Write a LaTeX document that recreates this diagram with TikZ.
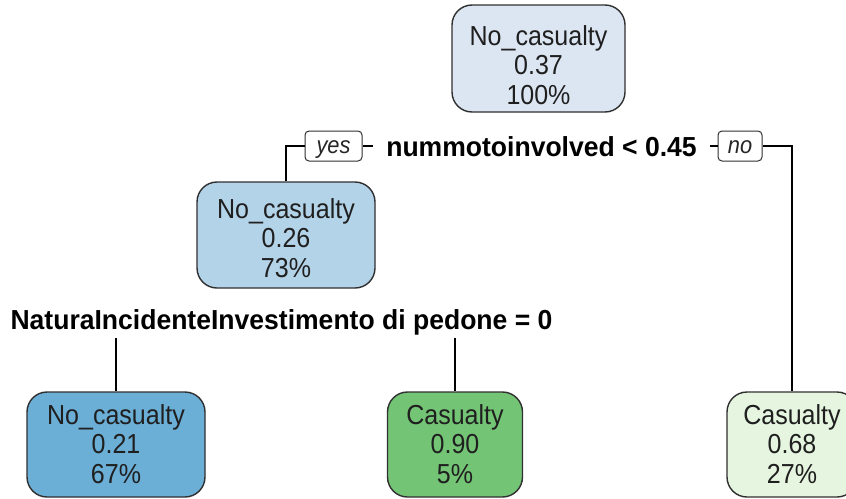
\documentclass[tikz,border=0pt]{standalone}
\usepackage{fontspec}
\setmainfont{Liberation Sans}
\newfontfamily\rfont[FakeStretch=0.91]{Liberation Sans}
\newfontfamily\bfontx[FakeStretch=0.965]{Liberation Sans}
\definecolor{cRoot}{HTML}{DCE6F2}
\definecolor{cTwo}{HTML}{B3D3E8}
\definecolor{cThree}{HTML}{6BAED6}
\definecolor{cFour}{HTML}{74C476}
\definecolor{cFive}{HTML}{E5F5E0}
\definecolor{edgec}{HTML}{303030}
\tikzset{
  treebox/.style={draw=edgec, line width=1.4pt, rounded corners=20pt, inner sep=0pt, minimum height=106pt},
  lbl/.style={anchor=base, inner sep=0pt, font=\rfont\fontsize{27.5}{30}\selectfont, text=black!88},
  splitlbl/.style={anchor=base, inner xsep=13pt, inner ysep=3pt, font=\bfontx\bfseries\fontsize{27.5}{30}\selectfont, text=black},
  tagbox/.style={draw=edgec, line width=1pt, rounded corners=4pt, inner sep=0pt, minimum height=30pt,
    text height=14pt, text depth=0pt, font=\rfont\itshape\fontsize{24}{26}\selectfont, text=black!85},
  conn/.style={draw=black, line width=1.1pt}
}
\newcommand\threelines[6]{%
  \node[lbl] (#1a) at (#2,#3) {#4};
  \node[lbl] (#1b) at (#2,#3+29.5) {#5};
  \node[lbl] (#1c) at (#2,#3+59) {#6};}
\begin{document}
\begin{tikzpicture}[x=1pt,y=-1pt]
\useasboundingbox (0,0) rectangle (846,498);
\clip (0,0) rectangle (846,498);
\fill[white] (0,0) rectangle (846,498);

% boxes
\node[treebox, fill=cRoot, minimum width=173pt, minimum height=107pt] (root) at (538.5,58.5) {};
\node[treebox, fill=cTwo, minimum width=178pt] (two) at (286,235) {};
\node[treebox, fill=cThree, minimum width=178pt, minimum height=105pt] (three) at (116,444.5) {};
\node[treebox, fill=cFour, minimum width=135pt, minimum height=105pt] (four) at (455,444.5) {};
\node[treebox, fill=cFive, minimum width=130pt, minimum height=105pt] (five) at (792,444.5) {};

% box texts
\threelines{rt}{538.5}{45}{No\_casualty}{0.37}{100\%}
\threelines{tw}{286}{218}{No\_casualty}{0.26}{73\%}
\threelines{th}{116}{424}{No\_casualty}{0.21}{67\%}
\threelines{fo}{455}{424}{Casualty}{0.90}{5\%}
\threelines{fi}{792}{424}{Casualty}{0.68}{27\%}

% split labels
\node[splitlbl] (splitA) at (541.5,156) {nummotoinvolved < 0.45};
\node[splitlbl] (splitB) at (281.5,329) {NaturaIncidenteInvestimento di pedone = 0};

% yes / no tags
\node[tagbox, minimum width=57pt] (yestag) at (333.5,146) {yes};
\node[tagbox, minimum width=44pt] (notag) at (740,146) {no};

% connectors
\draw[conn] (two.north) |- (yestag.west);
\draw[conn] (yestag.east) -- (yestag.east -| splitA.west);
\draw[conn] (notag.west -| splitA.east) -- (notag.west);
\draw[conn] (notag.east) -| (five.north);
\draw[conn] (three.north |- splitB.south) -- (three.north);
\draw[conn] (four.north |- splitB.south) -- (four.north);
\end{tikzpicture}
\end{document}
